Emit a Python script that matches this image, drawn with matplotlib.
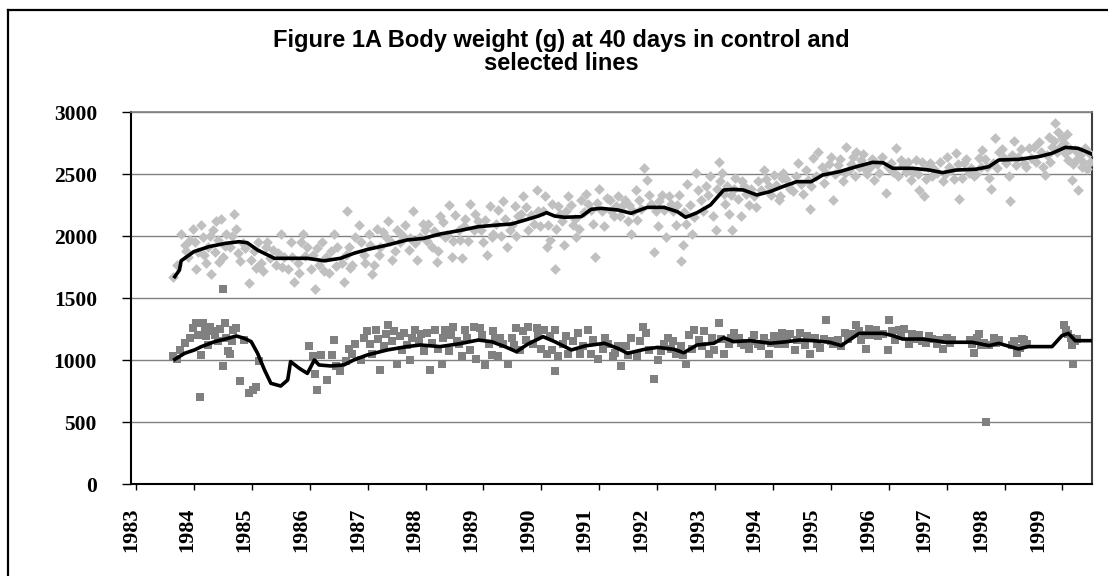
import matplotlib
matplotlib.use("Agg")
import matplotlib.pyplot as plt
from matplotlib.lines import Line2D
from matplotlib.ticker import FixedLocator, NullFormatter

# ---------------- data ----------------
title_text = "Figure 1A Body weight (g) at 40 days in control and\nselected lines"
year_labels = list(range(1983, 2000))
y_ticks = [0, 500, 1000, 1500, 2000, 2500, 3000]

# selected line: individual hatch means (year, grams)
selected_points = [
    (1983.64, 1670), (1983.70, 1770), (1983.78, 2020), (1983.84, 1930), (1983.90, 1830),
    (1983.93, 1970), (1983.99, 2060), (1984.04, 1730), (1984.07, 1870), (1984.13, 2090),
    (1984.16, 1990), (1984.21, 1780), (1984.24, 1910), (1984.30, 1690), (1984.33, 2050),
    (1984.39, 2120), (1984.41, 1970), (1984.47, 2140), (1984.50, 1830), (1984.56, 2020),
    (1984.62, 1910), (1984.70, 2180), (1984.73, 2060), (1984.76, 1860), (1984.84, 1940),
    (1984.96, 1620), (1984.99, 1810), (1985.07, 1740), (1985.16, 1780), (1985.25, 1910),
    (1985.27, 1950), (1985.36, 1890), (1985.42, 1770), (1985.50, 2020), (1985.56, 1830),
    (1985.62, 1730), (1985.67, 1950), (1985.73, 1630), (1985.79, 1780), (1985.85, 1950),
    (1985.88, 2020), (1985.96, 1910), (1986.02, 1730), (1986.10, 1570), (1986.16, 1770),
    (1986.22, 1950), (1986.28, 1830), (1986.33, 1700), (1986.42, 2020), (1986.48, 1910),
    (1986.56, 1780), (1986.59, 1630), (1986.65, 2200), (1986.68, 1910), (1986.73, 1770),
    (1986.79, 1990), (1986.85, 2090), (1986.93, 1850), (1987.02, 2020), (1987.08, 1690),
    (1987.11, 1770), (1987.16, 2060), (1987.22, 1910), (1987.31, 1990), (1987.36, 2120),
    (1987.42, 1810), (1987.51, 2050), (1987.56, 1950), (1987.65, 2090), (1987.71, 1890),
    (1987.79, 2200), (1987.85, 1810), (1987.91, 1990), (1987.99, 2050), (1988.05, 2100),
    (1988.11, 1910), (1988.19, 1790), (1988.25, 2160), (1988.34, 1990), (1988.40, 2250),
    (1988.45, 1830), (1988.51, 2170), (1988.57, 2050),
    (1988.60, 1970), (1988.63, 1820), (1988.68, 2140), (1988.77, 2260), (1988.83, 2050),
    (1988.91, 2120), (1989.00, 1950), (1989.06, 1850), (1989.11, 2240), (1989.17, 2020),
    (1989.26, 2210), (1989.34, 2280), (1989.40, 1910), (1989.46, 2050), (1989.54, 2240),
    (1989.60, 2160), (1989.69, 2320), (1989.77, 2050), (1989.83, 2170), (1989.92, 2370),
    (1989.97, 2080), (1990.06, 2320), (1990.09, 1910), (1990.15, 1970), (1990.23, 1730),
    (1990.29, 2240), (1990.35, 2120), (1990.40, 1930), (1990.46, 2320), (1990.55, 2090),
    (1990.60, 1990), (1990.69, 2290), (1990.77, 2340), (1990.86, 2210), (1990.92, 1830),
    (1991.00, 2380), (1991.09, 2080), (1991.18, 2290), (1991.26, 2160), (1991.32, 2320),
    (1991.40, 2240), (1991.49, 2120), (1991.55, 2020), (1991.63, 2370), (1991.69, 2290),
    (1991.78, 2550), (1991.83, 2450), (1991.89, 2260), (1991.95, 1870), (1992.01, 2080),
    (1992.09, 2330), (1992.15, 1990), (1992.24, 2260), (1992.32, 2090), (1992.38, 2330),
    (1992.44, 1930), (1992.42, 1800), (1992.49, 2100), (1992.52, 2420), (1992.61, 2020),
    (1992.67, 2510), (1992.75, 2290), (1992.84, 2400), (1992.92, 2480), (1993.01, 2050),
    (1993.07, 2600), (1993.12, 2510), (1993.18, 2260), (1993.24, 2180), (1993.30, 2050),
    (1993.35, 2470), (1993.44, 2160), (1993.50, 2400), (1993.58, 2250), (1993.67, 2320),
    (1993.75, 2440), (1993.84, 2530), (1993.93, 2400), (1994.01, 2490), (1994.10, 2290),
    (1994.15, 2470),
    (1994.12, 2320), (1994.18, 2510), (1994.26, 2410), (1994.35, 2360), (1994.44, 2590),
    (1994.52, 2340), (1994.61, 2450), (1994.64, 2220), (1994.69, 2630), (1994.78, 2680),
    (1994.84, 2560), (1994.92, 2510), (1995.01, 2640), (1995.04, 2290), (1995.12, 2570),
    (1995.21, 2440), (1995.27, 2720), (1995.32, 2530), (1995.38, 2640), (1995.44, 2680),
    (1995.52, 2610), (1995.58, 2550), (1995.67, 2560), (1995.75, 2450), (1995.84, 2510),
    (1995.95, 2350), (1996.04, 2590), (1996.12, 2710), (1996.21, 2610), (1996.30, 2520),
    (1996.38, 2450), (1996.47, 2610), (1996.53, 2370), (1996.61, 2320), (1996.67, 2560),
    (1996.75, 2480), (1996.84, 2510), (1996.93, 2440), (1997.01, 2640), (1997.07, 2530),
    (1997.16, 2670), (1997.21, 2300), (1997.30, 2590), (1997.38, 2510), (1997.47, 2480),
    (1997.56, 2630), (1997.61, 2690), (1997.70, 2560), (1997.76, 2380), (1997.84, 2790),
    (1997.90, 2680), (1997.99, 2630), (1998.07, 2480), (1998.10, 2280), (1998.16, 2770),
    (1998.24, 2640), (1998.33, 2590), (1998.42, 2710), (1998.50, 2720), (1998.59, 2760),
    (1998.70, 2490), (1998.76, 2800), (1998.82, 2720), (1998.87, 2910), (1998.93, 2840),
    (1998.99, 2790), (1999.05, 2670), (1999.10, 2610), (1999.16, 2450), (1999.22, 2690),
    (1999.27, 2370), (1999.33, 2560), (1999.39, 2710), (1999.45, 2670),
    # denser part of the cloud
    (1983.87, 1880), (1984.02, 1950), (1984.18, 1850), (1984.27, 2000), (1984.36, 1870),
    (1984.44, 1790), (1984.53, 1920), (1984.65, 2000), (1984.80, 1800), (1984.88, 1900),
    (1985.03, 1880), (1985.11, 1950), (1985.20, 1720), (1985.31, 1820), (1985.46, 1860),
    (1985.53, 1750), (1985.70, 1830), (1985.82, 1700), (1985.92, 1840),
    (1986.05, 1850), (1986.13, 1900), (1986.25, 1720), (1986.37, 1880), (1986.45, 1760),
    (1986.62, 1850), (1986.70, 1740), (1986.88, 1950), (1986.96, 1780),
    (1987.05, 1930), (1987.19, 1850), (1987.27, 2030), (1987.39, 1960), (1987.47, 1880),
    (1987.60, 2010), (1987.74, 1980), (1987.82, 1940), (1987.95, 2100),
    (1988.02, 1960), (1988.14, 2040), (1988.22, 1880), (1988.30, 2110), (1988.37, 2010),
    (1988.48, 1960), (1988.66, 2080), (1988.74, 1960), (1988.86, 2180), (1988.96, 2050),
    (1989.03, 2130), (1989.14, 1990), (1989.22, 2100), (1989.30, 2000), (1989.37, 2140),
    (1989.50, 2090), (1989.57, 2000), (1989.65, 2180), (1989.73, 2230), (1989.88, 2100),
    (1989.94, 2200),
    (1990.03, 2200), (1990.12, 2090), (1990.19, 2260), (1990.26, 2060), (1990.32, 2180),
    (1990.43, 2200), (1990.51, 2250), (1990.58, 2140), (1990.65, 2060), (1990.73, 2190),
    (1990.81, 2260), (1990.89, 2100), (1990.96, 2270),
    (1991.04, 2200), (1991.13, 2310), (1991.21, 2200), (1991.29, 2240), (1991.36, 2160),
    (1991.44, 2290), (1991.52, 2250), (1991.59, 2200), (1991.66, 2130), (1991.73, 2220),
    (1991.86, 2330), (1991.98, 2200),
    (1992.04, 2280), (1992.12, 2210), (1992.20, 2320), (1992.28, 2200), (1992.35, 2250),
    (1992.46, 2190), (1992.56, 2250), (1992.63, 2150), (1992.71, 2370), (1992.79, 2200),
    (1992.88, 2330), (1992.96, 2160),
    (1993.04, 2380), (1993.09, 2440), (1993.15, 2340), (1993.21, 2400), (1993.27, 2330),
    (1993.33, 2380), (1993.40, 2300), (1993.47, 2440), (1993.54, 2340), (1993.62, 2380),
    (1993.70, 2230), (1993.79, 2370), (1993.88, 2460), (1993.97, 2330),
    (1994.05, 2410), (1994.22, 2460), (1994.30, 2380), (1994.40, 2480), (1994.48, 2420),
    (1994.57, 2530), (1994.66, 2400), (1994.74, 2480), (1994.88, 2430), (1994.96, 2580),
    (1995.07, 2500), (1995.16, 2620), (1995.24, 2510), (1995.35, 2580), (1995.41, 2480),
    (1995.48, 2560), (1995.55, 2660), (1995.62, 2500), (1995.71, 2620), (1995.79, 2580),
    (1995.88, 2640), (1995.98, 2560),
    (1996.07, 2520), (1996.16, 2480), (1996.25, 2570), (1996.34, 2600), (1996.42, 2520),
    (1996.50, 2500), (1996.57, 2600), (1996.64, 2460), (1996.71, 2590), (1996.79, 2540),
    (1996.88, 2600), (1996.97, 2500),
    (1997.04, 2560), (1997.12, 2460), (1997.19, 2580), (1997.26, 2470), (1997.34, 2620),
    (1997.42, 2550), (1997.51, 2500), (1997.59, 2560), (1997.66, 2620), (1997.73, 2470),
    (1997.80, 2590), (1997.87, 2550), (1997.95, 2700),
    (1998.03, 2590), (1998.13, 2650), (1998.20, 2570), (1998.28, 2700), (1998.37, 2560),
    (1998.46, 2630), (1998.54, 2600), (1998.63, 2680), (1998.67, 2560), (1998.73, 2650),
    (1998.79, 2600), (1998.85, 2770), (1998.90, 2680), (1998.96, 2720),
    (1999.02, 2750), (1999.08, 2820), (1999.13, 2700), (1999.19, 2580), (1999.25, 2620),
    (1999.30, 2650), (1999.36, 2600), (1999.42, 2540), (1999.48, 2600),
]

# control line: individual hatch means (year, grams)
control_points = [
    (1983.64, 1030), (1983.70, 1010), (1983.76, 1080), (1983.84, 1140), (1983.93, 1180),
    (1983.99, 1260), (1984.04, 1300), (1984.07, 1200), (1984.10, 700), (1984.13, 1040),
    (1984.16, 1300), (1984.21, 1190), (1984.27, 1270), (1984.36, 1200), (1984.41, 1150),
    (1984.50, 1570), (1984.50, 950), (1984.53, 1300), (1984.59, 1070), (1984.62, 1050),
    (1984.67, 1240), (1984.73, 1260), (1984.79, 830), (1984.87, 1160), (1984.96, 730),
    (1985.02, 760), (1985.07, 780), (1985.13, 990),
    (1985.99, 1110), (1986.05, 1030), (1986.10, 890), (1986.13, 760), (1986.19, 1040),
    (1986.30, 840), (1986.39, 1040), (1986.42, 1160), (1986.45, 950), (1986.53, 910),
    (1986.62, 990), (1986.68, 1090), (1986.73, 1050), (1986.79, 1130), (1986.88, 1000),
    (1986.93, 1180), (1986.99, 1230), (1987.08, 1050), (1987.14, 1240), (1987.22, 920),
    (1987.28, 1110), (1987.36, 1280), (1987.42, 1150), (1987.51, 970), (1987.56, 1190),
    (1987.62, 1220), (1987.68, 1120), (1987.74, 1000), (1987.82, 1240), (1987.88, 1150),
    (1987.97, 1070), (1988.02, 1220), (1988.08, 920), (1988.17, 1240), (1988.22, 1090),
    (1988.28, 970), (1988.34, 1240), (1988.40, 1070), (1988.48, 1270), (1988.54, 1150),
    (1988.57, 1130), (1988.63, 1030), (1988.68, 1240), (1988.77, 1080), (1988.83, 1270),
    (1988.88, 1010), (1988.94, 1260), (1989.03, 960), (1989.09, 1130), (1989.14, 1040),
    (1989.20, 1180), (1989.26, 1030), (1989.34, 1130), (1989.43, 970), (1989.49, 1180),
    (1989.57, 1260), (1989.63, 1080), (1989.69, 1230), (1989.77, 1270), (1989.86, 1130),
    (1989.92, 1260), (1990.00, 1090), (1990.09, 1050), (1990.15, 1190), (1990.23, 910),
    (1990.23, 1240), (1990.29, 1030), (1990.37, 1130), (1990.46, 1050), (1990.55, 1150),
    (1990.63, 1220), (1990.72, 1110), (1990.80, 1240), (1990.86, 1050), (1990.98, 1010),
    (1991.06, 1090), (1991.15, 1130), (1991.23, 1030), (1991.32, 1110), (1991.38, 950),
    (1991.46, 1110), (1991.55, 1180), (1991.66, 1030), (1991.75, 1270), (1991.81, 1220),
    (1991.86, 1080), (1991.95, 850), (1992.01, 1000), (1992.12, 1130), (1992.18, 1180),
    (1992.24, 1090), (1992.32, 1050), (1992.41, 1110), (1992.49, 970), (1992.55, 1200),
    (1992.64, 1240), (1992.72, 1160), (1992.81, 1230), (1992.89, 1050), (1992.98, 1080),
    (1993.07, 1300), (1993.15, 1050), (1993.24, 1130), (1993.32, 1220), (1993.41, 1180),
    (1993.50, 1120), (1993.58, 1090), (1993.67, 1200), (1993.75, 1130), (1993.84, 1180),
    (1993.93, 1050), (1994.01, 1190), (1994.08, 1130), (1994.16, 1220),
    (1994.12, 1170), (1994.21, 1130), (1994.29, 1210), (1994.38, 1080), (1994.46, 1220),
    (1994.55, 1120), (1994.64, 1050), (1994.72, 1180), (1994.81, 1100), (1994.89, 1170),
    (1994.92, 1320), (1995.04, 1130), (1995.12, 1160), (1995.24, 1220), (1995.35, 1210),
    (1995.44, 1280), (1995.52, 1160), (1995.61, 1090), (1995.70, 1200), (1995.78, 1240),
    (1995.90, 1210), (1995.98, 1080), (1996.01, 1320), (1996.10, 1160), (1996.18, 1240),
    (1996.27, 1250), (1996.35, 1130), (1996.44, 1170), (1996.53, 1200), (1996.64, 1140),
    (1996.75, 1170), (1996.84, 1130), (1996.93, 1090), (1997.01, 1180), (1997.10, 1160),
    (1997.41, 1160), (1997.47, 1060), (1997.56, 1210), (1997.64, 1140), (1997.68, 500),
    (1997.73, 1120), (1997.81, 1180), (1997.90, 1160), (1998.13, 1120), (1998.21, 1060),
    (1998.30, 1170), (1998.39, 1130), (1999.02, 1280), (1999.10, 1210), (1999.16, 1120),
    (1999.19, 970), (1999.25, 1170),
    # denser part of the cloud
    (1984.19, 1240), (1984.25, 1120), (1984.33, 1230), (1984.45, 1250), (1984.56, 1180),
    (1984.65, 1150), (1987.05, 1130), (1987.18, 1170), (1987.32, 1210), (1987.46, 1230),
    (1987.59, 1080), (1987.77, 1180), (1987.93, 1210), (1988.12, 1140), (1988.31, 1180),
    (1988.44, 1200), (1988.72, 1180), (1988.98, 1200), (1989.17, 1230), (1989.29, 1180),
    (1989.52, 1120), (1989.73, 1160), (1989.95, 1200), (1990.05, 1240), (1990.18, 1080),
    (1990.42, 1190), (1990.67, 1050), (1990.90, 1160), (1991.10, 1180), (1991.28, 1060),
    (1991.50, 1040), (1991.70, 1150), (1992.06, 1070), (1992.28, 1150), (1992.45, 1040),
    (1992.60, 1090), (1992.77, 1110), (1992.94, 1180), (1993.11, 1170), (1993.28, 1180),
    (1993.45, 1140), (1993.63, 1150), (1993.80, 1110), (1993.97, 1140), (1994.25, 1180),
    (1994.42, 1160), (1994.59, 1190), (1994.76, 1130), (1995.00, 1150), (1995.17, 1110),
    (1995.30, 1170), (1995.48, 1230), (1995.57, 1200), (1995.66, 1250), (1995.82, 1190),
    (1996.05, 1230), (1996.22, 1190), (1996.40, 1210), (1996.58, 1150), (1996.70, 1190),
    (1996.89, 1160), (1997.05, 1140), (1997.44, 1130), (1997.52, 1180), (1997.60, 1120),
    (1997.86, 1140), (1998.17, 1150), (1998.26, 1100), (1998.34, 1160), (1999.06, 1240),
    (1999.14, 1180), (1999.22, 1150),
]

# moving averages (year, grams)
selected_trend = [
    (1983.67, 1672), (1983.75, 1725), (1983.78, 1800), (1984.00, 1874), (1984.26, 1914),
    (1984.55, 1941), (1984.78, 1954), (1984.92, 1946), (1985.10, 1887), (1985.39, 1820),
    (1985.67, 1820), (1985.96, 1820), (1986.25, 1800), (1986.53, 1820), (1986.76, 1860),
    (1987.00, 1892), (1987.34, 1927), (1987.68, 1968), (1987.97, 1981), (1988.25, 2016),
    (1988.60, 2045), (1988.91, 2075), (1989.26, 2089), (1989.49, 2097), (1989.72, 2129),
    (1989.95, 2161), (1990.09, 2188), (1990.23, 2161), (1990.40, 2151), (1990.69, 2156),
    (1990.86, 2215), (1991.03, 2223), (1991.32, 2210), (1991.55, 2183), (1991.83, 2231),
    (1992.12, 2231), (1992.35, 2196), (1992.49, 2151), (1992.69, 2188), (1992.92, 2250),
    (1993.15, 2371), (1993.32, 2376), (1993.49, 2371), (1993.72, 2331), (1993.95, 2358),
    (1994.18, 2400), (1994.41, 2438), (1994.66, 2438), (1994.86, 2492), (1995.15, 2519),
    (1995.44, 2559), (1995.72, 2594), (1995.90, 2591), (1996.07, 2546), (1996.41, 2546),
    (1996.70, 2532), (1996.93, 2511), (1997.16, 2532), (1997.50, 2538), (1997.73, 2559),
    (1997.90, 2613), (1998.24, 2618), (1998.59, 2640), (1998.82, 2667), (1999.05, 2715),
    (1999.27, 2707), (1999.45, 2672), (1999.51, 2659),
]
control_trend = [
    (1983.67, 1005), (1983.84, 1054), (1984.01, 1081), (1984.13, 1108), (1984.36, 1148),
    (1984.59, 1175), (1984.73, 1194), (1984.87, 1175), (1984.99, 1148), (1985.10, 1054),
    (1985.22, 919), (1985.33, 812), (1985.50, 790), (1985.62, 839), (1985.67, 987),
    (1985.82, 933), (1985.96, 892), (1986.08, 1000), (1986.16, 960), (1986.36, 952),
    (1986.59, 960), (1986.76, 1000), (1986.99, 1040), (1987.34, 1081), (1987.68, 1108),
    (1987.91, 1121), (1988.25, 1108), (1988.60, 1132), (1988.91, 1161), (1989.14, 1148),
    (1989.37, 1108), (1989.57, 1067), (1989.77, 1129), (1990.03, 1188), (1990.23, 1148),
    (1990.52, 1081), (1990.75, 1113), (1991.09, 1135), (1991.32, 1094), (1991.49, 1054),
    (1991.78, 1086), (1992.01, 1102), (1992.29, 1086), (1992.46, 1059), (1992.69, 1121),
    (1992.98, 1135), (1993.15, 1180), (1993.32, 1148), (1993.61, 1156), (1993.95, 1135),
    (1994.21, 1146), (1994.46, 1161), (1994.69, 1156), (1994.98, 1143), (1995.18, 1116),
    (1995.32, 1161), (1995.49, 1215), (1995.90, 1215), (1996.07, 1196), (1996.24, 1169),
    (1996.58, 1169), (1996.87, 1151), (1996.98, 1143), (1997.44, 1143), (1997.73, 1116),
    (1997.90, 1134), (1998.24, 1089), (1998.41, 1108), (1998.82, 1108), (1998.99, 1196),
    (1999.10, 1215), (1999.22, 1156), (1999.51, 1156),
]

# ---------------- figure ----------------
W, H = 1108, 576
fig = plt.figure(figsize=(W / 100, H / 100), dpi=100)
fig.patch.set_facecolor("white")
ax = fig.add_axes([131 / W, 1 - 484 / H, (1092 - 131) / W, (484 - 112) / H])

serif_bold = dict(family="Liberation Serif", weight="bold")

sx, sy = zip(*selected_points)
cx, cy = zip(*control_points)
stx, sty = zip(*selected_trend)
ctx, cty = zip(*control_trend)

ax.scatter(sx, sy, marker="D", s=30, color="#c0c0c0", linewidths=0, zorder=3)
ax.scatter(cx, cy, marker="s", s=40, color="#808080", linewidths=0, zorder=4)
ax.plot(stx, sty, color="black", lw=2.6, zorder=5, solid_joinstyle="round")
ax.plot(ctx, cty, color="black", lw=2.6, zorder=5, solid_joinstyle="round")

ax.set_xlim(1983.0, 1999.51)
ax.set_ylim(0, 3000)

# y axis
ax.set_yticks(y_ticks)
ax.set_yticklabels([str(v) for v in y_ticks], fontsize=15.5, **serif_bold)
ax.tick_params(axis="y", direction="out", length=6.5, width=1, pad=18, colors="black")
ax.yaxis.grid(True, color="#808080", lw=1)
ax.set_axisbelow(True)

# x axis: tick marks at year starts, labels slightly shifted (as in the reference)
ax.xaxis.set_major_locator(FixedLocator(year_labels))
ax.xaxis.set_major_formatter(NullFormatter())
ax.tick_params(axis="x", which="major", direction="out", length=4.5, width=1)
label_pos = [y - 0.086 - 0.021 * (y - year_labels[0]) for y in year_labels]
ax.set_xticks(label_pos, minor=True)
ax.set_xticklabels([str(y) for y in year_labels], minor=True, rotation=90,
                   fontsize=16, va="top", ha="center", **serif_bold)
ax.tick_params(axis="x", which="minor", length=0, pad=17)

for side in ("left", "bottom"):
    ax.spines[side].set_color("black")
    ax.spines[side].set_linewidth(1.5)
ax.spines["top"].set_color("#808080")
ax.spines["top"].set_linewidth(1.2)
ax.spines["right"].set_color("#404040")
ax.spines["right"].set_linewidth(1.5)

# title
fig.text(561 / W, 1 - 52 / H, title_text, ha="center", va="center",
         fontsize=17, family="Liberation Sans", weight="bold", linespacing=0.95)

# outer chart frame (right and bottom edges lie outside the picture)
fig.add_artist(Line2D([8 / W, 1.0], [1 - 10 / H, 1 - 10 / H], transform=fig.transFigure,
                      color="black", lw=1.6))
fig.add_artist(Line2D([8 / W, 8 / W], [1 - 10 / H, 0.0], transform=fig.transFigure,
                      color="black", lw=1.6))

fig.savefig("out.png", dpi=100, facecolor="white")
